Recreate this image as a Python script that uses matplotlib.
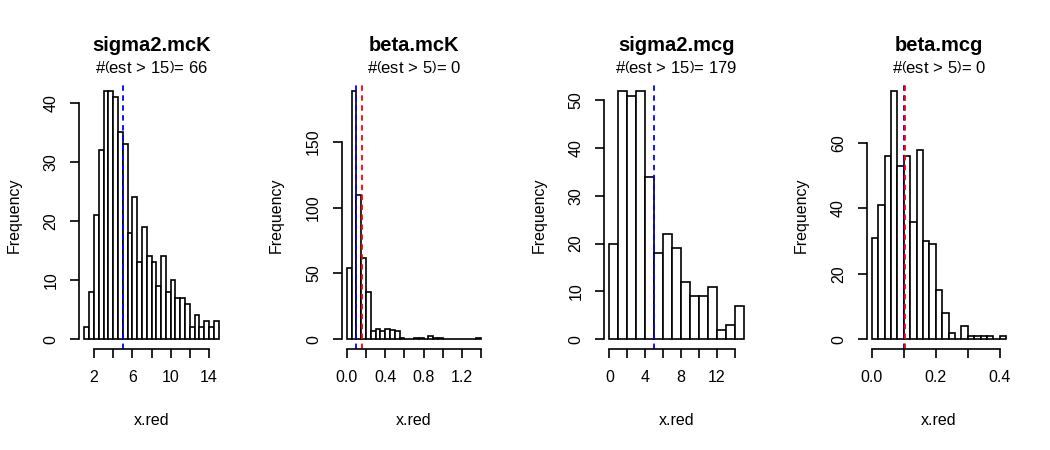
import numpy as np
import matplotlib
matplotlib.use('Agg')
import matplotlib.pyplot as plt

plt.rcParams['font.family'] = ['Liberation Sans', 'DejaVu Sans']
plt.rcParams['mathtext.fontset'] = 'custom'
plt.rcParams['mathtext.rm'] = 'Liberation Sans'
plt.rcParams['mathtext.it'] = 'Liberation Sans:italic'

# panel titles and subtitle text
titles = ['sigma2.mcK', 'beta.mcK', 'sigma2.mcg', 'beta.mcg']
thresholds = ['15', '5', '15', '5']
n_over = [66, 0, 179, 0]

# histogram breaks (bin edges)
breaks_s2K = np.arange(1.0, 15.0 + 1e-9, 0.5)
breaks_bK = np.arange(0.0, 1.4 + 1e-9, 0.05)
breaks_s2g = np.arange(0.0, 15.0 + 1e-9, 1.0)
breaks_bg = np.arange(0.0, 0.42 + 1e-9, 0.02)

# bin counts
counts_s2K = [2, 8, 21, 32, 42, 42, 41, 35, 33, 18, 24, 13, 19, 14, 13, 9, 14,
              8, 10, 7, 7, 6, 2, 4, 2, 3, 2, 3]
counts_bK = [54, 189, 110, 62, 36, 6, 8, 6, 8, 7, 6, 1, 0, 0, 1, 1, 0, 2, 1, 1,
             0, 0, 0, 0, 0, 0, 0, 1]
counts_s2g = [20, 52, 51, 52, 34, 18, 22, 19, 12, 9, 9, 11, 2, 3, 7]
counts_bg = [31, 41, 56, 76, 53, 56, 36, 58, 30, 29, 15, 8, 2, 0, 4, 1, 1, 1, 1,
             0, 1]

# reference lines: true value (blue) and estimate (red)
true_vals = [5, 0.1, 5, 0.1]
est_vals = [None, 0.153, None, 0.105]

# axis ticks and labels
xticks = [np.arange(2, 15, 2), np.arange(0, 1.41, 0.2), np.arange(0, 15, 2),
          np.arange(0, 0.41, 0.1)]
xticklabels = [['2', '', '6', '', '10', '', '14'],
               ['0.0', '', '0.4', '', '0.8', '', '1.2', ''],
               ['0', '', '4', '', '8', '', '12', ''],
               ['0.0', '', '0.2', '', '0.4']]
yticks = [[0, 10, 20, 30, 40], [0, 50, 100, 150], [0, 10, 20, 30, 40, 50],
          [0, 20, 40, 60]]

breaks = [breaks_s2K, breaks_bK, breaks_s2g, breaks_bg]
counts = [counts_s2K, counts_bK, counts_s2g, counts_bg]

fig = plt.figure(figsize=(10.5, 4.5), dpi=100)
W, H = 1050.0, 450.0
for i in range(4):
    left = (79 + 262.5 * i) / W
    ax = fig.add_axes([left, (H - 349) / H, 145 / W, 268 / H])
    b = breaks[i]
    c = np.array(counts[i])
    ax.bar(b[:-1], c, width=np.diff(b), align='edge', facecolor='white',
           edgecolor='black', linewidth=1.2)
    lo, hi = b[0], b[-1]
    ax.set_xlim(lo - 0.04 * (hi - lo), hi + 0.04 * (hi - lo))
    ax.set_ylim(-0.04 * c.max(), 1.04 * c.max())
    ax.axvline(true_vals[i], color='blue', ls=(0, (3, 2.5)), lw=1.3)
    if est_vals[i] is not None:
        ax.axvline(est_vals[i], color='red', ls=(0, (3, 2.5)), lw=1.3)

    for s in ['top', 'right']:
        ax.spines[s].set_visible(False)
    ax.spines['left'].set_bounds(yticks[i][0], yticks[i][-1])
    ax.spines['bottom'].set_bounds(xticks[i][0], xticks[i][-1])
    for s in ['left', 'bottom']:
        ax.spines[s].set_linewidth(1.2)
    ax.set_xticks(xticks[i])
    ax.set_xticklabels(xticklabels[i])
    ax.set_yticks(yticks[i])
    ax.set_yticklabels([str(v) for v in yticks[i]], rotation=90, va='center')
    ax.tick_params(direction='out', length=6.8, width=1.2, labelsize=11.5, pad=8)

    ax.text(-0.448, 0.5, 'Frequency', rotation=90, ha='center', va='center',
            fontsize=11.5, transform=ax.transAxes)
    ax.text(0.5, -0.265, 'x.red', ha='center', va='center', fontsize=11.5,
            transform=ax.transAxes)
    ax.text(0.5, 1.134, titles[i], ha='center', va='center', fontsize=14.5,
            fontweight='bold', transform=ax.transAxes)
    sub = (r'$\#\left(\mathrm{est}\,>\,' + thresholds[i] + r'\right)$= '
           + str(n_over[i]))
    ax.text(0.5, 1.0485, sub, ha='center', va='center', fontsize=12,
            transform=ax.transAxes)

fig.savefig('out.png', dpi=100, facecolor='white')
